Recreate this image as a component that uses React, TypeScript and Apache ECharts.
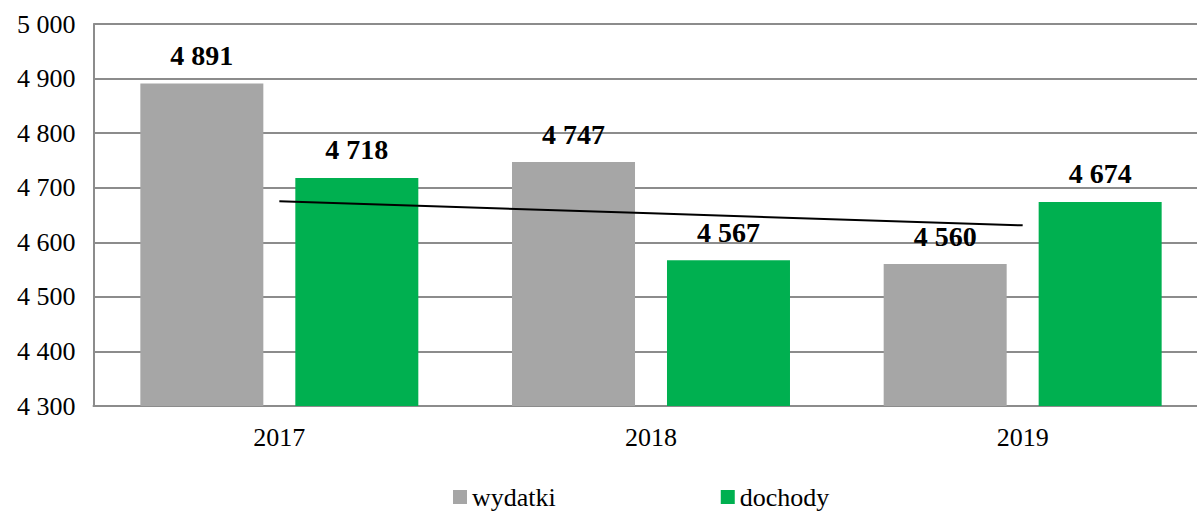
import React, { useEffect, useRef } from "react";
import * as echarts from "echarts";

const categories = ["2017", "2018", "2019"];
const wydatki = [4891, 4747, 4560];
const dochody = [4718, 4567, 4674];
const trendDochody = [4675, 4653, 4631];
const yTicks = { min: 4300, max: 5000, interval: 100 };

const fmt = (v: number) => {
  const s = String(Math.round(v));
  return s.replace(/\B(?=(\d{3})+(?!\d))/g, " ");
};

const FONT = "Liberation Serif";
const FONT2 = "'Times New Roman', Times, serif";

const barLabel = {
  show: true,
  position: "top",
  distance: 14,
  fontFamily: FONT2,
  fontSize: 28,
  fontWeight: "bold",
  color: "#000",
  formatter: (p: any) => fmt(p.value),
};

export default function App() {
  const ref = useRef<HTMLDivElement>(null);
  useEffect(() => {
    document.body.style.margin = "0";
    const chart = echarts.init(ref.current!, null, { renderer: "svg" });
    chart.setOption({
      animation: false,
      textStyle: { fontFamily: FONT },
      grid: { left: 93.5, top: 24, width: 1115, height: 382, containLabel: false },
      legend: {
        data: ["wydatki", "dochody"],
        left: 453,
        top: 484,
        padding: 0,
        icon: "rect",
        itemWidth: 14,
        itemHeight: 14,
        itemGap: 165,
        textStyle: { fontFamily: FONT2, fontSize: 26, color: "#000" },
      },
      xAxis: {
        type: "category",
        data: categories,
        axisLine: { show: true, lineStyle: { color: "#8c8c8c", width: 2 } },
        axisTick: { show: false },
        axisLabel: { fontFamily: FONT, fontSize: 26, color: "#000", margin: 18 },
      },
      yAxis: {
        type: "value",
        min: yTicks.min,
        max: yTicks.max,
        interval: yTicks.interval,
        axisLine: { show: true, lineStyle: { color: "#8c8c8c", width: 2 } },
        axisTick: { show: false },
        splitLine: { show: true, lineStyle: { color: "#8c8c8c", width: 2 } },
        axisLabel: {
          fontFamily: FONT,
          fontSize: 26,
          color: "#000",
          margin: 18,
          formatter: (v: number) => fmt(v),
        },
      },
      series: [
        {
          name: "wydatki",
          type: "bar",
          data: wydatki,
          barWidth: 123,
          barGap: "26%",
          itemStyle: { color: "#A6A6A6" },
          label: barLabel,
        },
        {
          name: "dochody",
          type: "bar",
          data: dochody,
          barWidth: 123,
          barGap: "26%",
          itemStyle: { color: "#00B050" },
          label: barLabel,
        },
        {
          name: "trend",
          type: "line",
          data: trendDochody,
          showSymbol: false,
          symbol: "none",
          lineStyle: { color: "#000", width: 2 },
          z: 5,
          silent: true,
        },
      ],
    });
    return () => chart.dispose();
  }, []);
  return (
    <div style={{ width: 1197, height: 512, overflow: "hidden", position: "relative" }}>
      <div ref={ref} style={{ width: 1240, height: 512 }} />
    </div>
  );
}
